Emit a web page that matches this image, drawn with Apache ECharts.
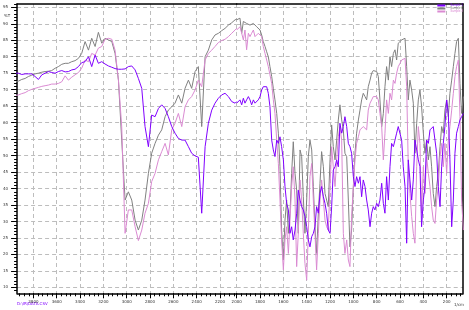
<!DOCTYPE html>
<html><head><meta charset="utf-8">
<script src="https://cdn.jsdelivr.net/npm/echarts@6/dist/echarts.min.js"></script>
<style>html,body{margin:0;padding:0;background:#fff}#c{width:469px;height:310px}</style>
</head><body><div id="c"></div>
<script>
// wavenumbers (cm-1), left segment 3940-2057, right segment 2000-60 (axis break)
const wnLeft = [3957, 3928, 3900, 3871, 3843, 3814, 3786, 3757, 3728, 3700, 3671, 3643, 3614, 3586, 3557, 3528, 3500, 3471, 3443, 3414, 3386, 3357, 3328, 3300, 3271, 3243, 3214, 3186, 3157, 3128, 3100, 3071, 3043, 3014, 2986, 2957, 2928, 2900, 2871, 2843, 2814, 2786, 2757, 2728, 2700, 2671, 2643, 2614, 2586, 2557, 2528, 2500, 2471, 2443, 2414, 2386, 2357, 2328, 2300, 2271, 2243, 2214, 2186, 2157, 2128, 2100, 2071, 2057];
const grayLeft = [72.4, 72.6, 73.1, 73.4, 74.0, 74.4, 74.8, 75.0, 75.3, 75.5, 75.6, 75.8, 76.5, 77.0, 77.7, 78.0, 78.0, 78.5, 78.8, 79.5, 81.0, 84.6, 82.0, 85.6, 83.1, 87.4, 84.1, 85.6, 85.1, 84.6, 81.0, 72.9, 54.7, 36.5, 39.0, 36.5, 30.4, 27.4, 30.4, 36.5, 44.6, 50.7, 53.7, 56.2, 57.8, 61.8, 63.8, 64.8, 65.9, 68.4, 65.9, 70.4, 72.9, 70.4, 75.5, 77.0, 58.8, 80.0, 82.0, 85.1, 86.6, 87.1, 87.9, 88.6, 89.6, 90.3, 91.2, 91.4];
const pinkLeft = [68.2, 68.4, 68.8, 69.1, 69.7, 70.1, 70.4, 70.7, 71.0, 71.2, 71.4, 71.7, 71.7, 71.9, 72.4, 74.2, 72.9, 73.8, 74.5, 75.2, 76.5, 79.0, 78.5, 81.0, 80.5, 82.6, 83.1, 85.3, 85.6, 85.3, 82.0, 72.9, 58.8, 26.4, 33.5, 33.5, 28.4, 24.2, 27.4, 32.5, 35.5, 42.1, 44.6, 48.7, 51.2, 53.7, 50.2, 57.8, 59.8, 62.8, 58.8, 64.8, 66.9, 67.9, 69.9, 72.9, 70.9, 79.0, 81.0, 82.0, 83.1, 84.3, 84.9, 85.3, 86.1, 87.1, 88.1, 88.6];
const purpleLeft = [75.0, 75.0, 74.6, 74.8, 74.8, 74.8, 74.0, 73.1, 74.5, 75.0, 75.5, 75.2, 75.0, 75.5, 75.8, 75.4, 75.5, 76.0, 76.2, 77.0, 78.2, 78.5, 80.0, 77.0, 80.5, 78.0, 78.5, 77.8, 77.2, 76.8, 76.4, 76.2, 76.2, 76.3, 77.0, 77.2, 76.0, 73.4, 70.4, 58.8, 52.7, 62.3, 61.8, 64.3, 65.4, 64.3, 61.8, 58.8, 56.8, 55.2, 54.7, 54.7, 52.7, 50.7, 49.9, 49.5, 32.5, 52.7, 59.8, 63.8, 65.9, 67.4, 68.4, 68.9, 67.9, 66.4, 65.9, 66.4];

const wnRight = [2000, 1986, 1972, 1957, 1943, 1929, 1915, 1900, 1886, 1872, 1857, 1843, 1829, 1815, 1800, 1786, 1772, 1757, 1743, 1729, 1715, 1700, 1686, 1672, 1657, 1643, 1629, 1615, 1600, 1586, 1572, 1557, 1543, 1529, 1515, 1500, 1486, 1472, 1457, 1443, 1429, 1415, 1400, 1386, 1372, 1357, 1343, 1329, 1315, 1300, 1286, 1272, 1257, 1243, 1229, 1215, 1200, 1186, 1172, 1157, 1143, 1129, 1115, 1100, 1086, 1072, 1057, 1043, 1029, 1015, 1000, 986, 972, 957, 943, 929, 915, 900, 886, 872, 857, 843, 829, 815, 800, 786, 772, 757, 743, 729, 715, 700, 686, 672, 657, 643, 629, 615, 600, 586, 572, 557, 543, 529, 515, 500, 486, 472, 457, 443, 429, 415, 400, 386, 372, 357, 343, 329, 315, 300, 286, 272, 257, 243, 229, 215, 200, 186, 172, 157, 143, 129, 115, 100, 86, 72, 57];
const grayRight = [91.2, 91.5, 91.7, 87.1, 90.7, 91.0, 90.1, 90.4, 89.6, 89.9, 90.1, 89.6, 89.1, 88.9, 88.1, 86.6, 84.6, 83.1, 81.5, 80.0, 77.0, 74.0, 70.4, 66.9, 62.8, 56.8, 46.6, 27.4, 18.3, 30.4, 36.5, 26.4, 32.5, 44.6, 54.2, 44.6, 39.5, 26.4, 51.7, 49.7, 37.5, 26.4, 36.5, 49.7, 54.7, 51.7, 40.6, 28.4, 20.3, 32.5, 41.6, 51.2, 46.6, 38.5, 36.5, 34.5, 48.7, 59.3, 52.7, 48.7, 54.7, 60.8, 65.4, 60.8, 57.8, 50.7, 49.7, 36.5, 22.3, 27.4, 40.6, 50.7, 56.8, 60.8, 63.8, 66.9, 68.9, 67.9, 66.9, 70.9, 72.9, 75.0, 75.8, 76.0, 75.5, 74.0, 66.9, 58.8, 62.8, 70.9, 77.0, 72.9, 80.0, 77.0, 81.0, 82.1, 79.0, 84.1, 84.6, 85.1, 85.3, 85.6, 77.0, 66.9, 72.9, 69.9, 65.9, 50.7, 59.8, 66.9, 69.9, 64.9, 56.8, 50.7, 54.7, 48.7, 52.7, 46.6, 38.5, 34.5, 40.6, 44.6, 52.7, 58.8, 56.8, 63.8, 66.9, 61.8, 68.9, 72.9, 77.0, 81.0, 84.6, 85.6, 71.9, 62.8, 67.9];
const pinkRight = [88.1, 88.6, 89.1, 87.1, 85.1, 88.1, 82.1, 87.1, 86.1, 87.1, 88.1, 86.1, 86.6, 87.1, 86.6, 86.1, 83.1, 81.0, 79.0, 77.0, 74.5, 71.9, 66.9, 62.8, 54.7, 47.6, 36.5, 24.4, 15.3, 24.4, 28.4, 20.3, 30.4, 40.6, 46.6, 36.5, 16.3, 26.4, 42.6, 36.5, 26.4, 17.3, 12.2, 26.4, 43.6, 47.6, 36.5, 26.4, 15.3, 26.4, 36.5, 42.6, 36.5, 30.4, 28.4, 27.4, 40.6, 52.7, 46.6, 40.6, 48.7, 55.7, 58.8, 54.7, 26.4, 20.3, 24.4, 18.3, 16.3, 31.5, 40.6, 48.7, 53.7, 55.7, 57.8, 58.3, 58.8, 58.3, 57.8, 63.8, 65.9, 66.9, 67.9, 68.4, 67.9, 66.9, 62.8, 58.8, 48.7, 56.8, 66.9, 62.8, 68.9, 66.9, 72.9, 71.9, 75.0, 77.0, 78.0, 79.0, 79.2, 79.5, 70.9, 46.6, 38.5, 31.5, 26.4, 23.4, 46.6, 58.8, 53.7, 32.5, 46.6, 38.5, 49.7, 44.6, 40.6, 34.5, 30.4, 29.4, 36.5, 40.6, 49.7, 53.7, 46.6, 53.7, 44.6, 54.7, 58.8, 63.8, 68.9, 74.0, 77.0, 79.0, 61.8, 36.5, 27.4];
const purpleRight = [65.9, 66.4, 66.9, 65.4, 67.4, 65.9, 66.9, 67.9, 66.9, 65.4, 66.9, 65.9, 65.9, 66.9, 67.9, 69.9, 70.9, 70.4, 70.9, 68.9, 64.9, 54.7, 51.7, 49.7, 54.7, 53.7, 55.7, 52.7, 48.7, 40.6, 35.5, 33.5, 26.4, 28.4, 24.4, 27.4, 32.5, 39.5, 36.5, 34.5, 33.5, 31.5, 28.4, 24.4, 22.3, 25.4, 26.4, 28.4, 34.5, 32.5, 38.5, 40.6, 37.5, 35.5, 32.5, 27.4, 26.4, 34.5, 45.6, 46.6, 48.7, 46.6, 59.8, 56.8, 58.8, 61.8, 58.8, 53.7, 52.7, 50.7, 43.6, 40.6, 43.6, 41.6, 43.6, 37.5, 42.6, 40.6, 36.5, 33.5, 28.4, 32.5, 34.5, 33.5, 35.5, 34.5, 36.5, 41.6, 35.5, 32.5, 43.6, 36.5, 46.6, 53.7, 52.7, 54.7, 56.8, 58.8, 59.3, 54.7, 46.6, 40.6, 23.4, 48.7, 42.6, 36.5, 42.6, 54.7, 51.7, 48.7, 46.6, 28.4, 36.5, 40.6, 54.7, 53.7, 57.8, 58.3, 58.8, 59.3, 50.7, 40.6, 34.5, 46.6, 53.7, 58.8, 66.9, 62.8, 48.7, 28.4, 36.5, 50.7, 56.8, 58.8, 60.8, 61.8, 62.8];

const xTicksLeft = [3800, 3600, 3400, 3200, 3000, 2800, 2600, 2400, 2200];
const xTicksRight = [2000, 1800, 1600, 1400, 1200, 1000, 800, 600, 400, 200];
const yTicks = [10, 15, 20, 25, 30, 35, 40, 45, 50, 55, 60, 65, 70, 75, 80, 85, 90, 95];
const seriesNames = ['Sample 1', 'Sample 2', 'Sample 3'];
const colors = {purple: '#8000FF', gray: '#808080', pink: '#DA8AD2'};

const minorX = (from, to) => { const a = []; for (let v = from; v > to; v -= 40) a.push(v); return a; };
const minorY = []; for (let v = 9; v <= 96; v++) minorY.push(v);

const GL = 17, GM = 236.7, GR = 463, GT = 4, GB = 293.3;
const axisLineStyle = {color: '#000', width: 1.5};
const splitStyle = {color: '#bdbdbd', type: [4, 3], width: 1};
const labelFont = {fontSize: 4, color: '#333', fontFamily: 'DejaVu Sans', formatter: v => String(v)};

function xMain(gi, min, max, ticks) {
  return {type: 'value', gridIndex: gi, position: 'bottom', inverse: true, min, max,
    axisLine: {show: true, onZero: false, lineStyle: axisLineStyle},
    axisTick: {show: true, customValues: ticks, length: 5, lineStyle: {color: '#000', width: 1}},
    axisLabel: Object.assign({show: true, customValues: ticks, margin: 7}, labelFont),
    splitLine: {show: true, lineStyle: splitStyle}};
}
function xMinor(gi, min, max, ticks) {
  return {type: 'value', gridIndex: gi, position: 'bottom', inverse: true, min, max,
    axisLine: {show: false, onZero: false},
    axisTick: {show: true, customValues: ticks, length: 3, lineStyle: {color: '#000', width: 1}},
    axisLabel: {show: false}, splitLine: {show: false}};
}
function xTop(gi, min, max) {
  return {type: 'value', gridIndex: gi, position: 'top', inverse: true, min, max,
    axisLine: {show: true, onZero: false, lineStyle: axisLineStyle},
    axisTick: {show: false}, axisLabel: {show: false}, splitLine: {show: false}};
}

const chart = echarts.init(document.getElementById('c'), null, {renderer: 'canvas'});
const zip = (xs, ys) => xs.map((x, i) => [x, ys[i]]);
function line(name, color, gi, xs, ys, z) {
  return {type: 'line', name, xAxisIndex: gi * 3, yAxisIndex: gi * 2, data: zip(xs, ys),
    symbol: 'none', showSymbol: false, lineStyle: {color, width: 1}, itemStyle: {color},
    z, animation: false, silent: true};
}

chart.setOption({
  animation: false,
  grid: [
    {left: GL, top: GT, width: GM - GL, height: GB - GT},
    {left: GM, top: GT, width: GR - GM, height: GB - GT}
  ],
  xAxis: [
    xMain(0, 2057, 3940, xTicksLeft), xMinor(0, 2057, 3940, minorX(3920, 2057)), xTop(0, 2057, 3940),
    xMain(1, 60, 2000, xTicksRight), xMinor(1, 60, 2000, minorX(1960, 60)), xTop(1, 60, 2000)
  ],
  yAxis: [
    {type: 'value', gridIndex: 0, position: 'left', min: 8.2, max: 96,
      axisLine: {show: true, onZero: false, lineStyle: axisLineStyle},
      axisTick: {show: true, customValues: yTicks, length: 6, lineStyle: {color: '#000', width: 1}},
      axisLabel: Object.assign({show: true, customValues: yTicks, margin: 9}, labelFont),
      splitLine: {show: true, lineStyle: splitStyle}},
    {type: 'value', gridIndex: 0, position: 'left', min: 8.2, max: 96,
      axisLine: {show: false, onZero: false},
      axisTick: {show: true, customValues: minorY, length: 3, lineStyle: {color: '#000', width: 1}},
      axisLabel: {show: false}, splitLine: {show: false}},
    {type: 'value', gridIndex: 1, position: 'left', min: 8.2, max: 96,
      axisLine: {show: false, onZero: false},
      axisTick: {show: false, customValues: yTicks},
      axisLabel: {show: false, customValues: yTicks},
      splitLine: {show: true, lineStyle: splitStyle}},
    {type: 'value', gridIndex: 1, position: 'right', min: 8.2, max: 96,
      axisLine: {show: true, onZero: false, lineStyle: axisLineStyle},
      axisTick: {show: false}, axisLabel: {show: false}, splitLine: {show: false}}
  ],
  legend: {orient: 'vertical', right: 6, top: 4, padding: 0, itemGap: 0, itemWidth: 8, itemHeight: 2,
    icon: 'rect', textStyle: {fontSize: 3, color: '#555'},
    data: [
      {name: seriesNames[0], textStyle: {color: colors.purple}},
      {name: seriesNames[1], textStyle: {color: colors.gray}},
      {name: seriesNames[2], textStyle: {color: colors.pink}}
    ]},
  graphic: [
    {type: 'text', left: 4, top: 14, style: {text: '%T', fontSize: 4, fill: '#333', fontFamily: 'DejaVu Sans'}},
    {type: 'text', left: 17, top: 302, style: {text: 'D:\\IR\\DATA.CSV', fontSize: 4, fill: '#8000FF', fontFamily: 'DejaVu Sans'}},
    {type: 'text', left: 454, top: 303, style: {text: '1/cm', fontSize: 4, fill: '#333', fontFamily: 'DejaVu Sans'}}
  ],
  series: [
    line(seriesNames[1], colors.gray, 0, wnLeft, grayLeft, 2),
    line(seriesNames[2], colors.pink, 0, wnLeft, pinkLeft, 3),
    line(seriesNames[0], colors.purple, 0, wnLeft, purpleLeft, 4),
    line(seriesNames[1], colors.gray, 1, wnRight, grayRight, 2),
    line(seriesNames[2], colors.pink, 1, wnRight, pinkRight, 3),
    line(seriesNames[0], colors.purple, 1, wnRight, purpleRight, 4)
  ]
});
</script>
</body></html>
